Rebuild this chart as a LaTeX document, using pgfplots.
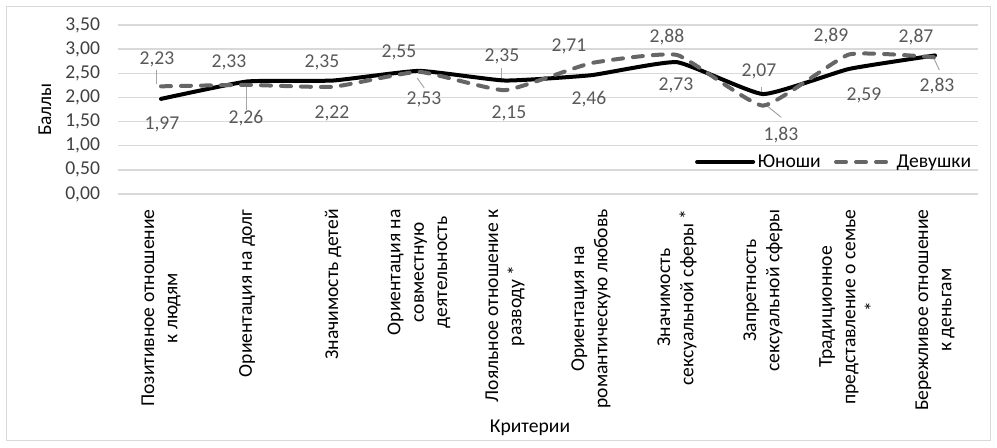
\documentclass[border=0pt]{standalone}
\usepackage{pgfplots}
\pgfplotsset{compat=1.18}
\usepackage{pgfplotstable}
\usepackage{fontspec}
\setmainfont{Carlito}
\definecolor{gridc}{RGB}{217,217,217}
\definecolor{txt}{RGB}{64,64,64}
\definecolor{lab}{RGB}{89,89,89}
\definecolor{dev}{RGB}{102,102,102}
\definecolor{lead}{RGB}{166,166,166}

\pgfplotstableread{
x y dx dy
0 1.97 0.75 -19.5
1 2.33 -13.5 14.25
2 2.35 -8.25 13.5
3 2.55 -15 13.5
4 2.35 -2.25 18
5 2.46 -1.5 -18
6 2.73 -0.75 -17.25
7 2.07 -3 17.25
8 2.59 11.25 -19.5
9 2.87 -14.25 13.5
}\yunoshi

\pgfplotstableread{
x y dx dy
0 2.23 -3 20.25
1 2.26 -0.75 -24.75
2 2.22 -0.75 -20.25
3 2.53 3.75 -21
4 2.15 3 -17.25
5 2.71 -16.5 12.75
6 2.88 -7.5 13.5
7 1.83 13.5 -21.75
8 2.89 -13.5 13.5
9 2.83 1.5 -21.75
}\devushki

\pgfplotsset{
  vlabels/.style={
    nodes near coords,
    visualization depends on={\thisrow{dx} \as \dx},
    visualization depends on={\thisrow{dy} \as \dy},
    every node near coord/.append style={anchor=center, xshift=\dx pt, yshift=\dy pt, font=\fontsize{14.7}{17}\selectfont, text=lab},
  }
}

\begin{document}
\begin{tikzpicture}
\begin{axis}[
  at={(0,0)}, anchor=south west,
  scale only axis, width=645pt, height=126.75pt,
  xmin=-0.5, xmax=9.5, ymin=0, ymax=3.5,
  xtick={0,1,2,3,4,5,6,7,8,9},
  xticklabels={{Позитивное отношение\\к людям},{Ориентация на долг},{Значимость детей},{Ориентация на\\совместную\\деятельность},{Лояльное отношение к\\разводу *},{Ориентация на\\романтическую любовь},{Значимость\\сексуальной сферы *},{Запретность\\сексуальной сферы},{Традиционное\\представление о семье\\*},{Бережливое отношение\\к деньгам}},
  ytick={0,0.5,1,1.5,2,2.5,3,3.5},
  /pgf/number format/.cd, fixed, fixed zerofill, precision=2, use comma, assume math mode=true,
  /pgfplots/.cd,
  axis line style={draw=none},
  major tick length=0pt,
  ymajorgrids,
  grid style={color=gridc, line width=1.1pt},
  xticklabel style={yshift=-8pt, rotate=90, anchor=east, align=center, font=\fontsize{14.7}{17.5}\selectfont, text=black},
  yticklabel style={font=\fontsize{14.7}{17}\selectfont, text=txt, anchor=east, xshift=-10pt},
  every axis y label/.style={at={(rel axis cs:0,0.5)}, xshift=-54.75pt, rotate=90, anchor=center, font=\fontsize{14.7}{17}\selectfont, text=black},
  every axis x label/.style={at={(rel axis cs:0,0)}, anchor=center, xshift=309pt, yshift=-175.5pt, font=\fontsize{14.7}{17}\selectfont, text=black},
  ylabel={Баллы},
  xlabel={Критерии},
  legend style={at={(rel axis cs:1,0.19)}, anchor=east, draw=none, fill=none, legend columns=-1, font=\fontsize{14.7}{17}\selectfont, text=black, /tikz/every even column/.append style={column sep=8pt}},
  legend image code/.code={\draw[#1] (0pt,0pt) -- (42pt,0pt);},
  clip=false,
]
\addplot[lead, line width=0.75pt, forget plot] coordinates {(-0.05,2.27) (-0.05,2.56)};
\addplot[lead, line width=0.75pt, forget plot] coordinates {(0.99,2.24) (0.99,1.74)};
\addplot[lead, line width=0.75pt, forget plot] coordinates {(2.98,2.40) (3.06,2.20)};
\addplot[lead, line width=0.75pt, forget plot] coordinates {(3.965,2.61) (3.965,2.38)};
\addplot[lead, line width=0.75pt, forget plot] coordinates {(6.98,2.22) (6.98,2.09)};
\addplot[lead, line width=0.75pt, forget plot] coordinates {(7.01,1.88) (7.21,1.59)};
\addplot[lead, line width=0.75pt, forget plot] coordinates {(8.99,2.80) (9.05,2.57)};
\addplot[black, line width=3pt, smooth, tension=0.25, line cap=round, line join=round, vlabels] table[x=x,y=y] {\yunoshi};
\addlegendentry{Юноши}
\addplot[dev, line width=3pt, smooth, tension=0.25, line cap=round, line join=round, dash pattern=on 7.5pt off 7.5pt, vlabels] table[x=x,y=y] {\devushki};
\addlegendentry{Девушки}
\end{axis}
\draw[color=gridc, line width=0.75pt] (-83.25pt,-184.5pt) rectangle (654pt,140.25pt);
\pgfresetboundingbox
\path[use as bounding box] (-88.5pt,-189.75pt) rectangle (659.25pt,145.5pt);
\end{tikzpicture}
\end{document}
